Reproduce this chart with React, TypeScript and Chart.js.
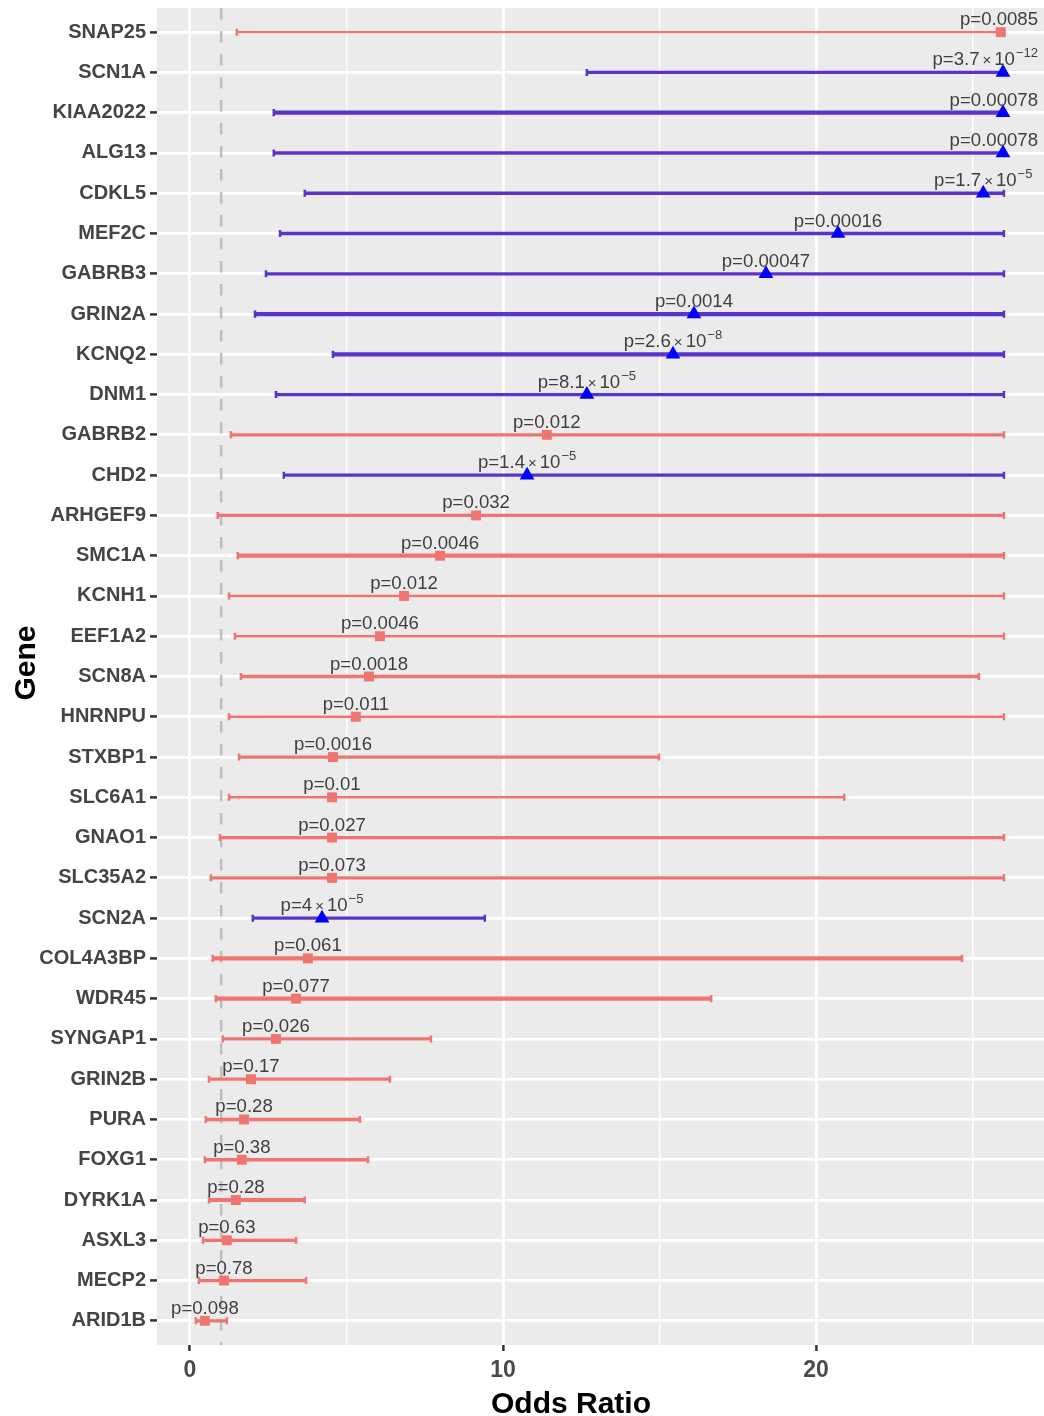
import React, { useEffect, useRef } from 'react';
import { Chart, registerables } from 'chart.js';

Chart.register(...registerables);

// Genes listed top to bottom
const genes = [
  'SNAP25', 'SCN1A', 'KIAA2022', 'ALG13', 'CDKL5', 'MEF2C', 'GABRB3', 'GRIN2A', 'KCNQ2', 'DNM1',
  'GABRB2', 'CHD2', 'ARHGEF9', 'SMC1A', 'KCNH1', 'EEF1A2', 'SCN8A', 'HNRNPU', 'STXBP1', 'SLC6A1',
  'GNAO1', 'SLC35A2', 'SCN2A', 'COL4A3BP', 'WDR45', 'SYNGAP1', 'GRIN2B', 'PURA', 'FOXG1', 'DYRK1A',
  'ASXL3', 'MECP2', 'ARID1B',
];

const oddsRatio = [
  25.9, 25.97, 25.97, 25.97, 25.34, 20.7, 18.4, 16.1, 15.43, 12.68,
  11.4, 10.77, 9.14, 7.99, 6.84, 6.07, 5.72, 5.3, 4.57, 4.54,
  4.54, 4.54, 4.22, 3.77, 3.39, 2.75, 1.95, 1.73, 1.66, 1.47,
  1.18, 1.09, 0.48,
];

const lowerCI = [
  1.5, 12.68, 2.68, 2.68, 3.67, 2.88, 2.43, 2.08, 4.57, 2.75,
  1.31, 3.0, 0.89, 1.53, 1.25, 1.44, 1.63, 1.25, 1.57, 1.25,
  0.96, 0.67, 2.01, 0.73, 0.83, 1.05, 0.61, 0.51, 0.48, 0.61,
  0.42, 0.29, 0.19,
];

const upperCI = [
  26.0, 26.0, 26.0, 26.0, 26.0, 26.0, 26.0, 26.0, 26.0, 26.0,
  26.0, 26.0, 26.0, 26.0, 26.0, 26.0, 25.2, 26.0, 14.98, 20.9,
  26.0, 26.0, 9.42, 24.66, 16.65, 7.7, 6.39, 5.43, 5.69, 3.67,
  3.39, 3.71, 1.18,
];

// 'dn' = blue triangle group, 'other' = red square group
const group = [
  'other', 'dn', 'dn', 'dn', 'dn', 'dn', 'dn', 'dn', 'dn', 'dn',
  'other', 'dn', 'other', 'other', 'other', 'other', 'other', 'other', 'other', 'other',
  'other', 'other', 'dn', 'other', 'other', 'other', 'other', 'other', 'other', 'other',
  'other', 'other', 'other',
];

// relative weight of each gene's interval line (1 = thin, 3 = thick)
const weight = [
  1, 2, 3, 2, 2, 2, 2, 3, 3, 2,
  2, 2, 2, 3, 1, 1, 2, 1, 2, 1,
  2, 2, 2, 3, 3, 2, 2, 2, 2, 3,
  2, 2, 2,
];

const pMantissa = [
  '0.0085', '3.7', '0.00078', '0.00078', '1.7', '0.00016', '0.00047', '0.0014', '2.6', '8.1',
  '0.012', '1.4', '0.032', '0.0046', '0.012', '0.0046', '0.0018', '0.011', '0.0016', '0.01',
  '0.027', '0.073', '4', '0.061', '0.077', '0.026', '0.17', '0.28', '0.38', '0.28',
  '0.63', '0.78', '0.098',
];

const pExponent: (string | null)[] = [
  null, '\u221212', null, null, '\u22125', null, null, null, '\u22128', '\u22125',
  null, '\u22125', null, null, null, null, null, null, null, null,
  null, null, '\u22125', null, null, null, null, null, null, null,
  null, null, null,
];

const xTicks = [0, 5, 10, 15, 20, 25];
const refLine = 1;

const RED = '#F07470';
const BLUE_LINE = '#5A34C8';
const BLUE_PT = '#0000FF';
const FONT = '"Liberation Sans", Arial, Helvetica, sans-serif';

const n = genes.length;
const rowVal = (i: number) => n - i;

export default function App() {
  const ref = useRef<HTMLCanvasElement | null>(null);

  useEffect(() => {
    const canvas = ref.current;
    if (!canvas) return;

    const redPts: any[] = [];
    const bluePts: any[] = [];
    genes.forEach((g, i) => {
      const p = { x: oddsRatio[i], y: rowVal(i) };
      if (group[i] === 'dn') bluePts.push(p); else redPts.push(p);
    });

    const forestPlugin = {
      id: 'forest',
      beforeDraw(chart: any) {
        const { ctx, chartArea: a } = chart;
        ctx.save();
        ctx.fillStyle = '#EBEBEB';
        ctx.fillRect(a.left, a.top, a.right - a.left, a.bottom - a.top);
        ctx.restore();
      },
      beforeDatasetsDraw(chart: any) {
        const { ctx, chartArea: a, scales } = chart;
        const xs = scales.x, ys = scales.y;
        ctx.save();
        ctx.beginPath();
        ctx.rect(a.left, a.top, a.right - a.left, a.bottom - a.top);
        ctx.clip();
        // reference dashed line
        const xr = xs.getPixelForValue(refLine);
        ctx.strokeStyle = '#BDBDBD';
        ctx.lineWidth = 2.5;
        ctx.setLineDash([11.5, 11.5]);
        ctx.lineDashOffset = 0;
        ctx.beginPath();
        ctx.moveTo(xr, a.top);
        ctx.lineTo(xr, a.bottom);
        ctx.stroke();
        ctx.setLineDash([]);
        // intervals
        genes.forEach((g, i) => {
          const y = ys.getPixelForValue(rowVal(i));
          const x1 = xs.getPixelForValue(lowerCI[i]);
          const x2 = xs.getPixelForValue(upperCI[i]);
          const col = group[i] === 'dn' ? BLUE_LINE : RED;
          const lw = 1.5 + weight[i] * 0.9;
          ctx.strokeStyle = col;
          ctx.lineWidth = lw;
          ctx.lineCap = 'butt';
          ctx.beginPath();
          ctx.moveTo(x1, y);
          ctx.lineTo(x2, y);
          ctx.stroke();
          ctx.lineWidth = 2.5;
          const ch = Math.max(3.5, lw / 2 + 1.5);
          ctx.beginPath();
          ctx.moveTo(x1, y - ch); ctx.lineTo(x1, y + ch);
          ctx.moveTo(x2, y - ch); ctx.lineTo(x2, y + ch);
          ctx.stroke();
        });
        ctx.restore();
      },
      afterDatasetsDraw(chart: any) {
        const { ctx, scales } = chart;
        const xs = scales.x, ys = scales.y;
        ctx.save();
        ctx.fillStyle = '#3F3F3F';
        ctx.textBaseline = 'alphabetic';
        ctx.textAlign = 'left';
        const big = `18.6px ${FONT}`;
        const small = `13px ${FONT}`;
        const times = `15px ${FONT}`;
        genes.forEach((g, i) => {
          const y = ys.getPixelForValue(rowVal(i)) - 7;
          const cx = xs.getPixelForValue(oddsRatio[i]);
          const parts: { t: string; f: string; dy: number; padL: number; padR: number }[] = [];
          if (pExponent[i]) {
            parts.push({ t: 'p=' + pMantissa[i], f: big, dy: 0, padL: 0, padR: 3 });
            parts.push({ t: '\u00D7', f: times, dy: 0, padL: 0, padR: 3 });
            parts.push({ t: '10', f: big, dy: 0, padL: 0, padR: 1 });
            parts.push({ t: pExponent[i] as string, f: small, dy: -8, padL: 0, padR: 0 });
          } else {
            parts.push({ t: 'p=' + pMantissa[i], f: big, dy: 0, padL: 0, padR: 0 });
          }
          let w = 0;
          const widths = parts.map((p) => {
            ctx.font = p.f;
            const m = ctx.measureText(p.t).width;
            w += p.padL + m + p.padR;
            return m;
          });
          let x = cx - w / 2;
          if (x + w > 1038) x = 1038 - w;
          parts.forEach((p, k) => {
            ctx.font = p.f;
            x += p.padL;
            ctx.fillText(p.t, x, y + p.dy);
            x += widths[k] + p.padR;
          });
        });
        ctx.restore();
      },
      afterDraw(chart: any) {
        const { ctx } = chart;
        ctx.save();
        ctx.fillStyle = '#000000';
        ctx.font = `bold 30px ${FONT}`;
        ctx.textAlign = 'center';
        ctx.textBaseline = 'alphabetic';
        ctx.fillText('Odds Ratio', 571, 1413);
        ctx.translate(35, 663);
        ctx.rotate(-Math.PI / 2);
        ctx.fillText('Gene', 0, 0);
        ctx.restore();
      },
    };

    const chart = new Chart(canvas, {
      type: 'scatter',
      data: {
        datasets: [
          {
            label: 'other',
            data: redPts,
            pointStyle: 'rect',
            pointRadius: 7,
            pointHoverRadius: 7,
            backgroundColor: RED,
            borderWidth: 0,
          },
          {
            label: 'dn',
            data: bluePts,
            pointStyle: 'triangle',
            pointRadius: 8.5,
            pointHoverRadius: 8.5,
            backgroundColor: BLUE_PT,
            borderWidth: 0,
          },
        ],
      },
      plugins: [forestPlugin],
      options: {
        animation: false,
        responsive: false,
        maintainAspectRatio: false,
        events: [],
        layout: { autoPadding: false, padding: { top: 8, right: 0, left: 0, bottom: 0 } },
        plugins: {
          legend: { display: false },
          tooltip: { enabled: false },
          title: { display: false },
        },
        scales: {
          x: {
            type: 'linear',
            min: -1.05,
            max: 27.28,
            afterBuildTicks: (scale: any) => {
              scale.ticks = xTicks.map((v) => ({ value: v }));
            },
            afterFit: (scale: any) => {
              scale.height = 71;
              scale.paddingLeft = 0;
              scale.paddingRight = 0;
              scale.paddingTop = 0;
              scale.paddingBottom = 0;
            },
            border: { display: false },
            grid: {
              color: '#FFFFFF',
              lineWidth: (c: any) => (c.tick && c.tick.value % 10 === 0 ? 2.8 : 1.4),
              tickColor: (c: any) => (c.tick && c.tick.value % 10 === 0 ? '#333333' : 'rgba(0,0,0,0)'),
              tickLength: 6,
              tickWidth: 2.5,
              drawTicks: true,
            },
            ticks: {
              autoSkip: false,
              maxRotation: 0,
              padding: 6,
              color: '#4A4A4A',
              font: { family: FONT, size: 23, weight: 'bold' },
              callback: (v: any) => (Number(v) % 10 === 0 ? String(v) : ''),
            },
          },
          y: {
            type: 'linear',
            min: 0.4,
            max: n + 0.6,
            afterBuildTicks: (scale: any) => {
              scale.ticks = genes.map((g, i) => ({ value: rowVal(i) }));
            },
            afterFit: (scale: any) => {
              scale.width = 157;
              scale.paddingLeft = 0;
              scale.paddingRight = 0;
              scale.paddingTop = 0;
              scale.paddingBottom = 0;
            },
            border: { display: false },
            grid: {
              color: '#FFFFFF',
              lineWidth: 2.8,
              tickColor: '#333333',
              tickLength: 7,
              tickWidth: 2.5,
            },
            ticks: {
              autoSkip: false,
              padding: 4,
              color: '#444444',
              font: { family: FONT, size: 20, weight: 'bold' },
              callback: (v: any) => genes[n - Number(v)] ?? '',
            },
          },
        },
      },
    } as any);

    return () => chart.destroy();
  }, []);

  return (
    <div style={{ position: 'absolute', left: 0, top: 0, width: 1044, height: 1416, background: '#FFFFFF' }}>
      <canvas ref={ref} width={1044} height={1416} style={{ width: 1044, height: 1416, display: 'block' }} />
    </div>
  );
}
